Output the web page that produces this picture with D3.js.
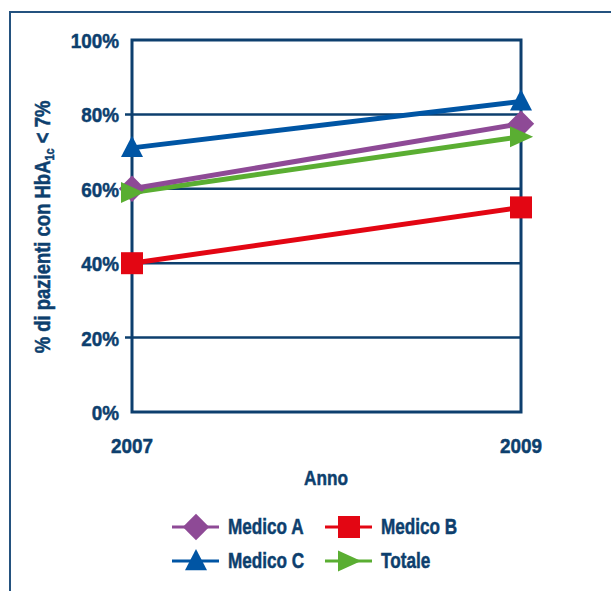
<!DOCTYPE html>
<html>
<head>
<meta charset="utf-8">
<script src="https://cdn.jsdelivr.net/npm/d3@7"></script>
<style>
  html, body { margin: 0; padding: 0; background: #fff; }
  svg text { font-family: "Liberation Sans", Arial, sans-serif; font-weight: bold; stroke: #0d3f6e; stroke-width: 0.5px; }
</style>
</head>
<body>
<svg id="chart" width="611" height="591"></svg>
<script>
// Chart data
const years = ["2007", "2009"];
const yTicks = [0, 20, 40, 60, 80, 100];
const seriesNames = ["Medico A", "Medico B", "Medico C", "Totale"];
const medicoA = [60, 77.5];
const medicoB = [40, 55];
const medicoC = [71, 83.5];
const totale = [59, 74];

const navy = "#0d3f6e";
const colors = { "Medico A": "#8e4a96", "Medico B": "#e30613", "Medico C": "#0055a4", "Totale": "#5aae32" };
const shapes = { "Medico A": "diamond", "Medico B": "square", "Medico C": "up", "Totale": "right" };
const series = [
  { name: "Medico A", values: medicoA },
  { name: "Medico B", values: medicoB },
  { name: "Medico C", values: medicoC },
  { name: "Totale", values: totale }
];

const svg = d3.select("#chart");

// condensed text: placed at (px,py) and squeezed horizontally
function condensed(sel, px, py, sx) {
  return sel.attr("x", 0).attr("y", 0)
    .attr("transform", (d, i) => {
      const X = typeof px === "function" ? px(d, i) : px;
      const Y = typeof py === "function" ? py(d, i) : py;
      return `translate(${X},${Y}) scale(${sx},1)`;
    });
}

// outer frame
svg.append("path")
  .attr("d", "M10,600 V12 H620")
  .attr("fill", "none").attr("stroke", "#24527f").attr("stroke-width", 2);

const plot = { left: 132, right: 521, top: 40, bottom: 412 };
const x = d3.scalePoint().domain(years).range([plot.left, plot.right]);
const y = d3.scaleLinear().domain([0, 100]).range([plot.bottom, plot.top]);

// gridlines with outward ticks
svg.append("g").selectAll("line")
  .data(yTicks.filter(t => t > 0 && t < 100))
  .join("line")
  .attr("x1", plot.left - 7).attr("x2", plot.right)
  .attr("y1", d => y(d)).attr("y2", d => y(d))
  .attr("stroke", navy).attr("stroke-width", 2.5);

// plot frame
svg.append("rect")
  .attr("x", plot.left).attr("y", plot.top)
  .attr("width", plot.right - plot.left).attr("height", plot.bottom - plot.top)
  .attr("fill", "none").attr("stroke", navy).attr("stroke-width", 3);

// y tick labels
condensed(svg.append("g").selectAll("text")
  .data(yTicks).join("text"), 119, d => y(d) + 8, 0.9)
  .attr("text-anchor", "end")
  .attr("font-size", 21).attr("fill", navy)
  .text(d => d + "%");

// x tick labels
condensed(svg.append("g").selectAll("text")
  .data(years).join("text"), d => x(d), 453, 0.9)
  .attr("text-anchor", "middle")
  .attr("font-size", 21).attr("fill", navy)
  .text(d => d);

// axis titles
condensed(svg.append("text"), 326, 485, 0.82)
  .attr("text-anchor", "middle")
  .attr("font-size", 21).attr("fill", navy).text("Anno");

const yTitle = svg.append("text")
  .attr("transform", "translate(50,227) rotate(-90) scale(0.84,1)")
  .attr("text-anchor", "middle")
  .attr("font-size", 22).attr("fill", navy);
yTitle.append("tspan").text("% di pazienti con HbA");
yTitle.append("tspan").attr("font-size", 13).attr("dy", 4).text("1c");
yTitle.append("tspan").attr("dy", -4).text(" < 7%");

// marker shape paths centred on 0,0
function markerPath(shape, s) {
  switch (shape) {
    case "diamond": return `M0,${-s * 0.6}L${s * 0.6},0L0,${s * 0.6}L${-s * 0.6},0Z`;
    case "square": return `M${-s / 2},${-s / 2}h${s}v${s}h${-s}Z`;
    case "up": return `M0,${-s * 0.55}L${s * 0.5},${s * 0.42}L${-s * 0.5},${s * 0.42}Z`;
    case "right": return `M${s * 0.55},0L${-s * 0.5},${-s * 0.48}L${-s * 0.5},${s * 0.48}Z`;
  }
}

// series lines
const line = d3.line().x((d, i) => x(years[i])).y(d => y(d));
svg.append("g").selectAll("path")
  .data(series.slice().reverse()).join("path")
  .attr("d", d => line(d.values))
  .attr("fill", "none")
  .attr("stroke", d => colors[d.name])
  .attr("stroke-width", 5);

// series markers
series.forEach(s => {
  svg.append("g").selectAll("path")
    .data(s.values).join("path")
    .attr("transform", (d, i) => `translate(${x(years[i])},${y(d)})`)
    .attr("d", markerPath(shapes[s.name], 22))
    .attr("fill", colors[s.name]);
});

// legend
const legendPos = [
  { name: "Medico A", lx: 172, ty: 527 },
  { name: "Medico B", lx: 325, ty: 527 },
  { name: "Medico C", lx: 172, ty: 561 },
  { name: "Totale", lx: 325, ty: 561 }
];
const lg = svg.append("g").selectAll("g").data(legendPos).join("g")
  .attr("transform", d => `translate(${d.lx},${d.ty})`);
lg.append("line")
  .attr("x1", 0).attr("x2", 47).attr("y1", 0).attr("y2", 0)
  .attr("stroke", d => colors[d.name]).attr("stroke-width", 3);
lg.append("path")
  .attr("transform", "translate(24,0)")
  .attr("d", d => markerPath(shapes[d.name], 22))
  .attr("fill", d => colors[d.name]);
condensed(lg.append("text"), 56, 7, 0.78)
  .attr("font-size", 22).attr("fill", navy)
  .text(d => d.name);
</script>
</body>
</html>
